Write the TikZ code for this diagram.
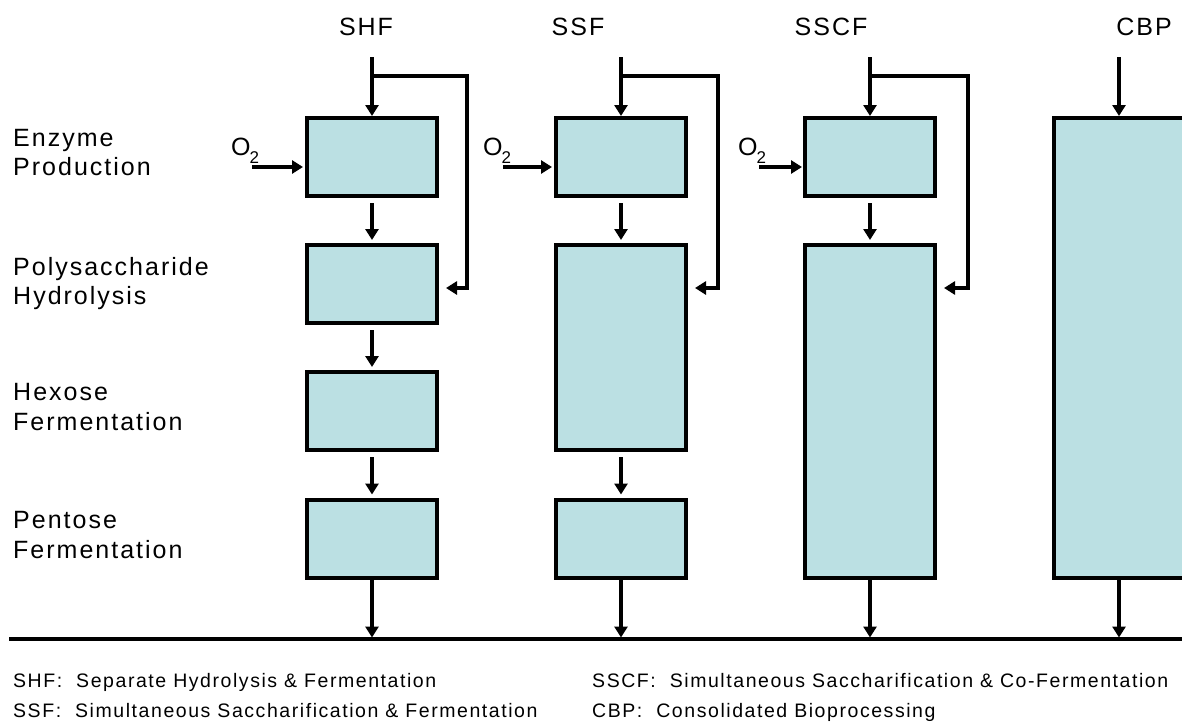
\documentclass[tikz,border=0pt]{standalone}
\usepackage{fontspec}
\setmainfont{Liberation Sans}[Ligatures=NoCommon]
\newfontfamily\lblfont{Liberation Sans}[LetterSpace=8,Ligatures=NoCommon]
\newfontfamily\legfont{Liberation Sans}[LetterSpace=8,Ligatures=NoCommon]
\usetikzlibrary{arrows.meta}
\definecolor{boxfill}{RGB}{187,224,227}
\begin{document}
\begin{tikzpicture}[x=1pt,y=-1pt,
  box/.style={draw=black, line width=4pt, fill=boxfill, minimum width=130pt, minimum height=78pt, inner sep=0pt},
  arr/.style={line width=3.5pt, -{Triangle[length=11pt,width=13pt]}},
  conn/.style={line width=3.5pt},
  lbl/.style={font=\lblfont\fontsize{25}{30}\selectfont, inner sep=0pt},
  leg/.style={font=\legfont\fontsize{19.5}{23}\selectfont, inner sep=0pt, anchor=base west},
]
\useasboundingbox (0,0) rectangle (1182,723);
\clip (0,0) rectangle (1182,723);

% column titles
\node[lbl, anchor=base] (tSHF) at (366,35) {SHF};
\node[lbl, anchor=base] (tSSF) at (578,35) {SSF};
\node[lbl, anchor=base] (tSSCF) at (831,35) {SSCF};
\node[lbl, anchor=base] (tCBP) at (1144,35) {CBP};

% row labels
\node[lbl, anchor=base west] (l1a) at (13,146) {Enzyme};
\node[lbl, anchor=base west] (l1b) at (13,175) {Production};
\node[lbl, anchor=base west] (l2a) at (13,275) {Polysaccharide};
\node[lbl, anchor=base west] (l2b) at (13,304) {Hydrolysis};
\node[lbl, anchor=base west] (l3a) at (13,400) {Hexose};
\node[lbl, anchor=base west] (l3b) at (13,430) {Fermentation};
\node[lbl, anchor=base west] (l4a) at (13,528) {Pentose};
\node[lbl, anchor=base west] (l4b) at (13,558) {Fermentation};

% boxes
\node[box] (shf1) at (372,157) {};
\node[box] (shf2) at (372,284) {};
\node[box] (shf3) at (372,411) {};
\node[box] (shf4) at (372,538.5) {};

\node[box] (ssf1) at (621,157) {};
\node[box, minimum height=205pt] (ssf2) at (621,347.5) {};
\node[box] (ssf3) at (621,538.5) {};

\node[box] (sscf1) at (870,157) {};
\node[box, minimum height=333pt] (sscf2) at (870,411.5) {};

\node[box, minimum height=460pt] (cbp) at (1119,348) {};

% bottom line
\coordinate (lineL) at (9,639);
\coordinate (lineR) at (1182,639);
\draw[conn] (lineL) -- (lineR);

% inputs and branches
\coordinate (shfin) at (372,57);  \coordinate (shfj) at (372,76);  \coordinate (shfb) at (467,76);
\coordinate (ssfin) at (621,57);  \coordinate (ssfj) at (621,76);  \coordinate (ssfb) at (718,76);
\coordinate (sscfin) at (870,57); \coordinate (sscfj) at (870,76); \coordinate (sscfb) at (968,76);
\coordinate (cbpin) at (1119,57);

\draw[arr] (shfin) -- (shf1);
\draw[arr] (ssfin) -- (ssf1);
\draw[arr] (sscfin) -- (sscf1);
\draw[arr] (cbpin) -- (cbp);

\draw[arr, shorten >=7pt] (shfj) -- (shfb) |- ([yshift=-4pt]shf2.east);
\draw[arr, shorten >=7pt] (ssfj) -- (ssfb) |- ([yshift=-4pt]ssf2.north east |- shf2.east);
\draw[arr, shorten >=7pt] (sscfj) -- (sscfb) |- ([yshift=-4pt]sscf2.north east |- shf2.east);

% O2 inputs
\node[lbl, anchor=base west] (o2shf) at (231,155) {O\kern-1pt\raisebox{-8pt}{\fontsize{17}{17}\selectfont 2}};
\node[lbl, anchor=base west] (o2ssf) at (483,155) {O\kern-1pt\raisebox{-8pt}{\fontsize{17}{17}\selectfont 2}};
\node[lbl, anchor=base west] (o2sscf) at (738,155) {O\kern-1pt\raisebox{-8pt}{\fontsize{17}{17}\selectfont 2}};
\coordinate (shfo) at (252,167);
\coordinate (ssfo) at (503,167);
\coordinate (sscfo) at (759,167);
\draw[arr, shorten >=2pt] (shfo) -- (shfo -| shf1.west);
\draw[arr, shorten >=2pt] (ssfo) -- (ssfo -| ssf1.west);
\draw[arr, shorten >=1pt] (sscfo) -- (sscfo -| sscf1.west);

% downward arrows between stages
\draw[arr, shorten <=5pt, shorten >=3pt] (shf1) -- (shf2);
\draw[arr, shorten <=5pt, shorten >=3pt] (shf2) -- (shf3);
\draw[arr, shorten <=5pt, shorten >=3pt] (shf3) -- (shf4);
\draw[arr, shorten <=5pt, shorten >=3pt] (ssf1) -- (ssf2);
\draw[arr, shorten <=5pt, shorten >=3pt] (ssf2) -- (ssf3);
\draw[arr, shorten <=5pt, shorten >=3pt] (sscf1) -- (sscf2);

% outputs to bottom line
\draw[arr, shorten >=1.5pt] (shf4) -- (shf4 |- lineL);
\draw[arr, shorten >=1.5pt] (ssf3) -- (ssf3 |- lineL);
\draw[arr, shorten >=1.5pt] (sscf2) -- (sscf2 |- lineL);
\draw[arr, shorten >=1.5pt] (cbp) -- (cbp |- lineL);

% legend
\node[leg] (legA) at (13,687) {SHF:\ \ Separate Hydrolysis \& Fermentation};
\node[leg] (legB) at (13,717) {SSF:\ \ Simultaneous Saccharification \& Fermentation};
\node[leg] (legC) at (592,687) {SSCF:\ \ Simultaneous Saccharification \& Co-Fermentation};
\node[leg] (legD) at (592,717) {CBP:\ \ Consolidated Bioprocessing};
\end{tikzpicture}
\end{document}
